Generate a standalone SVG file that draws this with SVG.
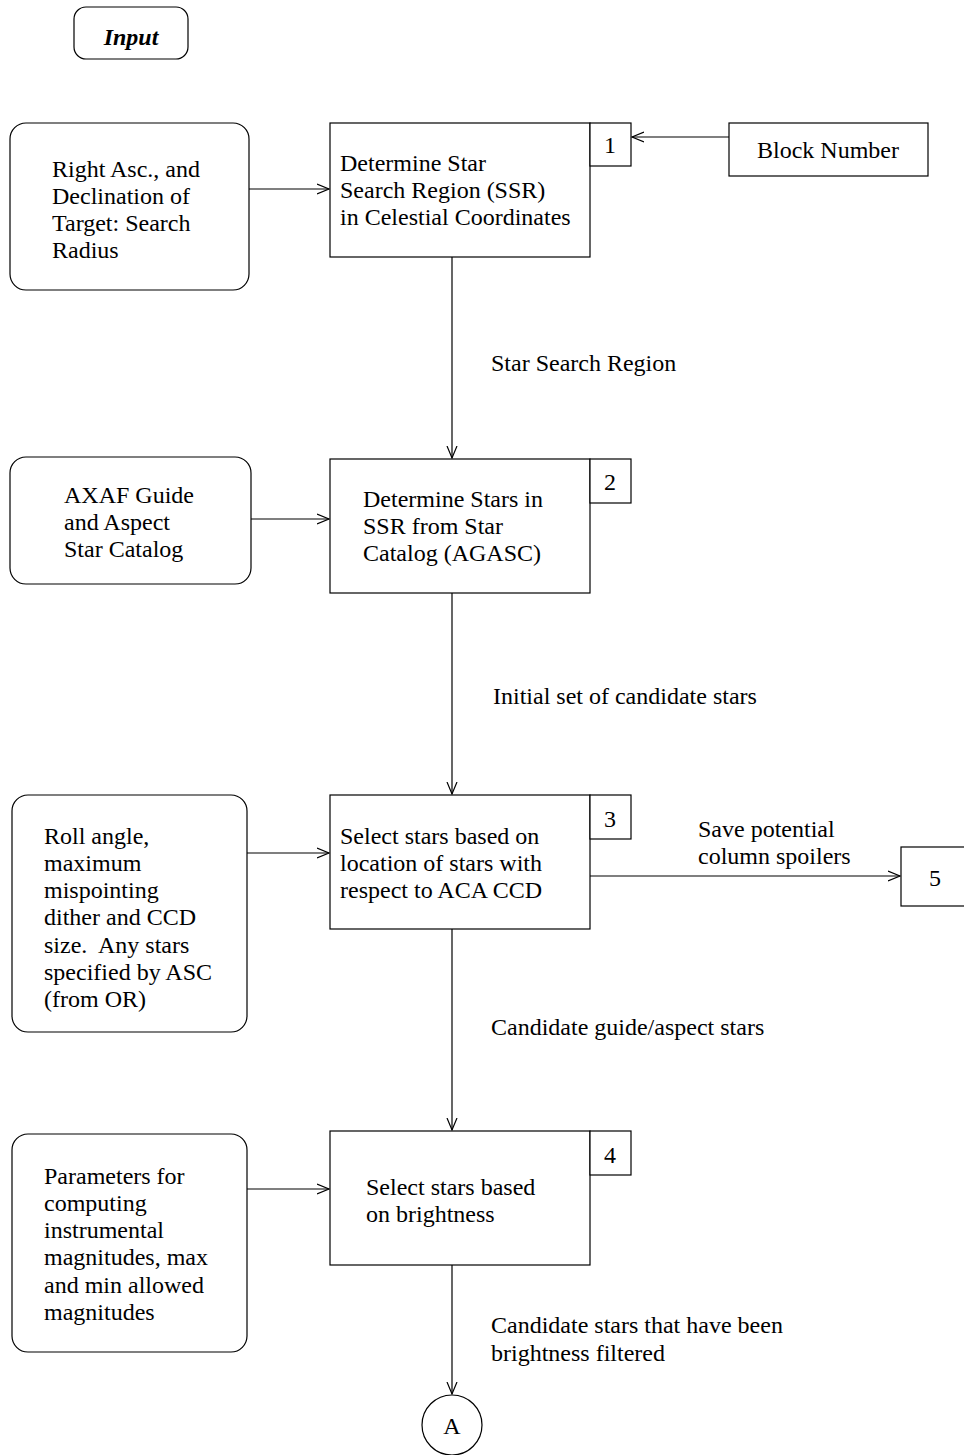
<svg xmlns="http://www.w3.org/2000/svg" width="964" height="1455" viewBox="0 0 964 1455">
<style>
.box{fill:#fff;stroke:#000;stroke-width:1.2}
.ln{fill:none;stroke:#000;stroke-width:1.2}
text{font-family:"Liberation Serif","Times New Roman",serif;font-size:24px;fill:#000}
.c{text-anchor:middle}
</style>
<defs>
<marker id="ah" markerWidth="14" markerHeight="12" refX="12" refY="6" orient="auto" markerUnits="userSpaceOnUse">
<path d="M0,1 L12,6 L0,11" fill="none" stroke="#000" stroke-width="1.2"/>
</marker>
</defs>
<rect width="964" height="1455" fill="#fff"/>
<g id="connectors">
<line class="ln" x1="249" y1="189" x2="329" y2="189" marker-end="url(#ah)"/>
<line class="ln" x1="729" y1="137" x2="632" y2="137" marker-end="url(#ah)"/>
<line class="ln" x1="452" y1="257" x2="452" y2="458" marker-end="url(#ah)"/>
<line class="ln" x1="251" y1="519" x2="329" y2="519" marker-end="url(#ah)"/>
<line class="ln" x1="452" y1="593" x2="452" y2="794" marker-end="url(#ah)"/>
<line class="ln" x1="247" y1="853" x2="329" y2="853" marker-end="url(#ah)"/>
<line class="ln" x1="590" y1="876" x2="900" y2="876" marker-end="url(#ah)"/>
<line class="ln" x1="452" y1="929" x2="452" y2="1130" marker-end="url(#ah)"/>
<line class="ln" x1="247" y1="1189" x2="329" y2="1189" marker-end="url(#ah)"/>
<line class="ln" x1="452" y1="1265" x2="452" y2="1394" marker-end="url(#ah)"/>
<text x="491" y="371">Star Search Region</text>
<text x="493" y="704">Initial set of candidate stars</text>
<text x="698" y="837">Save potential</text>
<text x="698" y="864">column spoilers</text>
<text x="491" y="1035">Candidate guide/aspect stars</text>
<text x="491" y="1333">Candidate stars that have been</text>
<text x="491" y="1361">brightness filtered</text>
</g>
<g id="input-label">
<rect class="box" x="74" y="7" width="114" height="52" rx="12"/>
<text x="131" y="45" class="c" font-weight="bold" font-style="italic">Input</text>
</g>
<g id="in1">
<rect class="box" x="10" y="123" width="239" height="167" rx="16"/>
<text x="52" y="177">Right Asc., and</text>
<text x="52" y="204">Declination of</text>
<text x="52" y="231">Target: Search</text>
<text x="52" y="258">Radius</text>
</g>
<g id="p1">
<rect class="box" x="330" y="123" width="260" height="134"/>
<rect class="box" x="590" y="123" width="41" height="43"/>
<text x="610" y="153" class="c">1</text>
<text x="340" y="171">Determine Star</text>
<text x="340" y="198">Search Region (SSR)</text>
<text x="340" y="225">in Celestial Coordinates</text>
</g>
<g id="blocknum">
<rect class="box" x="729" y="123" width="199" height="53"/>
<text x="828" y="158" class="c">Block Number</text>
</g>
<g id="in2">
<rect class="box" x="10" y="457" width="241" height="127" rx="16"/>
<text x="64" y="503">AXAF Guide</text>
<text x="64" y="530">and Aspect</text>
<text x="64" y="557">Star Catalog</text>
</g>
<g id="p2">
<rect class="box" x="330" y="459" width="260" height="134"/>
<rect class="box" x="590" y="459" width="41" height="44"/>
<text x="610" y="490" class="c">2</text>
<text x="363" y="507">Determine Stars in</text>
<text x="363" y="534">SSR from Star</text>
<text x="363" y="561">Catalog (AGASC)</text>
</g>
<g id="in3">
<rect class="box" x="12" y="795" width="235" height="237" rx="16"/>
<text x="44" y="844">Roll angle,</text>
<text x="44" y="871">maximum</text>
<text x="44" y="898">mispointing</text>
<text x="44" y="925">dither and CCD</text>
<text x="44" y="953" xml:space="preserve">size.  Any stars</text>
<text x="44" y="980">specified by ASC</text>
<text x="44" y="1007">(from OR)</text>
</g>
<g id="p3">
<rect class="box" x="330" y="795" width="260" height="134"/>
<rect class="box" x="590" y="795" width="41" height="44"/>
<text x="610" y="827" class="c">3</text>
<text x="340" y="844">Select stars based on</text>
<text x="340" y="871">location of stars with</text>
<text x="340" y="898">respect to ACA CCD</text>
</g>
<g id="p5">
<rect class="box" x="901" y="847" width="70" height="59"/>
<text x="935" y="886" class="c">5</text>
</g>
<g id="in4">
<rect class="box" x="12" y="1134" width="235" height="218" rx="16"/>
<text x="44" y="1184">Parameters for</text>
<text x="44" y="1211">computing</text>
<text x="44" y="1238">instrumental</text>
<text x="44" y="1265">magnitudes, max</text>
<text x="44" y="1293">and min allowed</text>
<text x="44" y="1320">magnitudes</text>
</g>
<g id="p4">
<rect class="box" x="330" y="1131" width="260" height="134"/>
<rect class="box" x="590" y="1131" width="41" height="44"/>
<text x="610" y="1163" class="c">4</text>
<text x="366" y="1195">Select stars based</text>
<text x="366" y="1222">on brightness</text>
</g>
<g id="connA">
<circle class="box" cx="452" cy="1425" r="30"/>
<text x="452" y="1434" class="c">A</text>
</g>
</svg>
